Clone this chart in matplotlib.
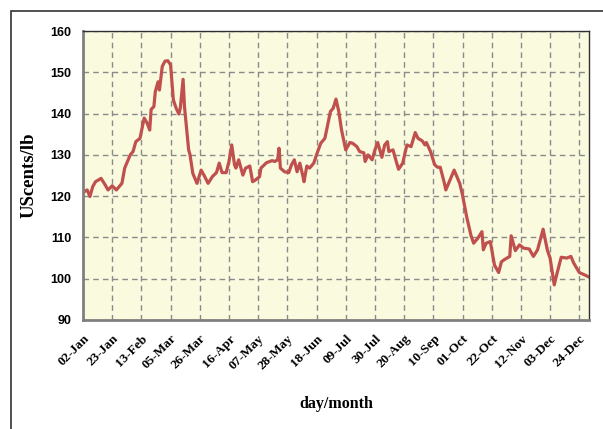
import matplotlib
matplotlib.use("Agg")
import matplotlib.pyplot as plt
from matplotlib.patches import Rectangle

# days after 02-Jan-2008 and price in US cents/lb
day = [0, 1, 3, 5, 7, 9, 13, 16, 18, 21, 24, 28, 30, 34, 36, 38, 41, 44, 46, 48,
       49, 51, 52, 54, 55, 57, 59, 61, 63, 65, 67, 69, 70, 72, 73, 76, 77, 79, 82, 85,
       87, 90, 93, 96, 98, 100, 103, 105, 107, 109, 110, 112, 115, 117, 120, 122, 124, 127, 128, 132,
       136, 138, 140, 141, 142, 145, 148, 150, 152, 154, 156, 158, 159, 161, 163, 166, 168, 171, 174, 176,
       178, 180, 182, 184, 186, 189, 192, 194, 197, 199, 202, 203, 205, 208, 210, 212, 215, 217, 219, 220,
       223, 225, 227, 230, 233, 236, 239, 241, 244, 246, 247, 250, 253, 255, 257, 260, 261, 264, 267, 271,
       273, 276, 279, 281, 284, 287, 288, 290, 293, 296, 299, 301, 303, 307, 308, 311, 314, 317, 321, 324,
       327, 331, 334, 336, 339, 341, 344, 348, 351, 353, 357, 361, 364]
price = [120.8, 121.1, 121.5, 119.9, 122.3, 123.5, 124.3, 122.7, 121.5, 122.5, 121.5, 123.1, 126.8, 130.0, 130.8, 133.2, 134.0, 138.9, 137.8, 136.0,
         141.0, 141.7, 145.3, 147.7, 145.7, 151.4, 152.7, 152.8, 151.8, 143.3, 141.3, 139.9, 141.3, 148.3, 141.7, 131.2, 130.0, 125.5, 123.1, 126.3,
         125.1, 123.1, 124.7, 125.7, 128.0, 125.7, 125.7, 128.4, 132.4, 127.6, 126.8, 128.8, 125.1, 126.8, 127.3, 123.5, 123.9, 124.7, 126.8, 128.1,
         128.6, 128.4, 128.8, 131.6, 126.8, 125.9, 125.7, 127.6, 128.8, 125.9, 128.0, 125.1, 123.5, 127.3, 126.8, 128.0, 130.0, 132.8, 134.0, 137.2,
         140.5, 141.3, 143.5, 140.5, 136.0, 131.2, 133.0, 132.8, 132.0, 130.8, 130.5, 128.4, 130.0, 128.8, 131.2, 133.0, 129.4, 132.4, 133.2,
         130.8, 131.2, 128.8, 126.5, 128.0, 132.4, 132.0, 135.4, 134.0, 133.4, 132.4, 133.0, 130.8, 127.6, 127.0, 127.0, 123.1, 121.5, 123.9, 126.3,
         123.1, 120.3, 115.0, 110.6, 108.6, 109.8, 111.4, 107.0, 108.6, 109.0, 103.3, 101.5, 104.1, 104.6, 105.4, 110.4, 106.8, 108.2, 107.4, 107.2,
         105.4, 107.0, 112.0, 107.0, 105.0, 98.5, 101.3, 105.2, 105.0, 105.4, 103.8, 101.5, 100.9, 100.4]

tick_days = list(range(0, 358, 21))
tick_labels = ["02-Jan", "23-Jan", "13-Feb", "05-Mar", "26-Mar", "16-Apr", "07-May", "28-May", "18-Jun",
               "09-Jul", "30-Jul", "20-Aug", "10-Sep", "01-Oct", "22-Oct", "12-Nov", "03-Dec", "24-Dec"]
y_ticks = [90, 100, 110, 120, 130, 140, 150, 160]

fig = plt.figure(figsize=(6.03, 4.29), dpi=100)
fig.patches.append(Rectangle((11 / 603, -0.1), 1.2, 1.1 - 11 / 429, transform=fig.transFigure,
                             fill=False, edgecolor="#333333", linewidth=1.2))
ax = fig.add_axes([83 / 603, 1 - 320 / 429, 506 / 603, 289 / 429])
ax.set_facecolor("#FAFADF")

ax.plot(day, price, color="#C0504D", linewidth=2.3, solid_joinstyle="round")

ax.set_xlim(0, 364)
ax.set_ylim(90, 160)
ax.set_xticks(tick_days)
ax.set_xticklabels(tick_labels, rotation=45, ha="right", rotation_mode="anchor",
                   fontfamily="Liberation Serif", fontweight="bold", fontsize=9.5)
ax.set_yticks(y_ticks)
ax.set_yticklabels([str(v) for v in y_ticks], fontfamily="Liberation Sans",
                   fontweight="bold", fontsize=9)
ax.tick_params(length=0, pad=8.5)
ax.tick_params(axis="x", pad=9)

ax.grid(True, linestyle=(0, (4, 3)), color="#8a8a8a", linewidth=1)
ax.set_axisbelow(True)
for side in ["left", "bottom"]:
    ax.spines[side].set_color("#808080")
    ax.spines[side].set_linewidth(2)
for side in ["top", "right"]:
    ax.spines[side].set_color("#303030")
    ax.spines[side].set_linewidth(1)

ax.set_ylabel("UScents/lb", fontfamily="Liberation Serif", fontweight="bold", fontsize=13.5, labelpad=9)
fig.text(336 / 603, 1 - 404 / 429, "day/month", ha="center", va="center",
         fontfamily="Liberation Serif", fontweight="bold", fontsize=11.5)

fig.savefig("out.png", dpi=100)
